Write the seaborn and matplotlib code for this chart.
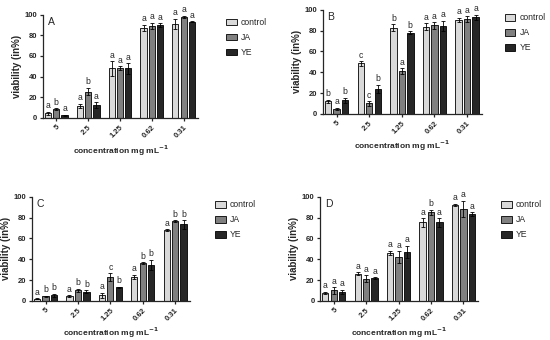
import numpy as np
import pandas as pd
import matplotlib
matplotlib.use("Agg")
import matplotlib.pyplot as plt
import seaborn as sns

sns.set_style("ticks")
plt.rcParams["font.family"] = ["Liberation Sans", "DejaVu Sans"]
plt.rcParams["mathtext.default"] = "bf"

concentrations = ["5", "2.5", "1.25", "0.62", "0.31"]
treatments = ["control", "JA", "YE"]
colors = ["#d9d9d9", "#808080", "#262626"]

# media y desviacion por panel (control, JA, YE)
A_mean = [[4.5, 12, 48, 87, 91], [8.5, 25.5, 48, 89, 98], [2.5, 12.5, 48, 90, 93]]
A_err = [[1.5, 2, 7, 3, 5], [1, 3.5, 2, 3, 1], [0.5, 2.5, 5, 1.5, 0.5]]
A_let = [["a", "a", "a", "a", "a"], ["b", "b", "a", "a", "a"], ["a", "a", "a", "a", "a"]]

B_mean = [[12, 48.5, 83, 84, 90.5], [5, 10, 41, 85, 91], [13, 24, 78, 84.5, 93]]
B_err = [[1.5, 2, 3, 3, 2], [1, 2, 3, 3, 3], [2.5, 4, 1.5, 5, 2.5]]
B_let = [["b", "c", "b", "a", "a"], ["a", "c", "a", "a", "a"], ["b", "b", "b", "a", "a"]]

C_mean = [[2, 4.5, 5.5, 23, 68], [4.5, 10, 23, 36, 76.5], [5.5, 9, 13, 34.5, 73.5]]
C_err = [[0.5, 1, 2.5, 2, 1], [0.5, 1.5, 3.5, 1, 1], [1.5, 1, 0.5, 5, 4]]
C_let = [["a", "a", "a", "a", "a"], ["b", "b", "c", "b", "b"], ["b", "b", "b", "b", "b"]]

D_mean = [[8, 26, 46, 75.5, 92.5], [10, 21.5, 42, 85, 88.5], [8.5, 22, 47, 75.5, 83.5]]
D_err = [[1, 1.5, 2, 4, 1], [3, 3, 5.5, 2.5, 7.5], [2, 0.5, 6, 4, 1.5]]
D_let = [["a", "a", "a", "a", "a"], ["a", "a", "a", "b", "a"], ["a", "a", "a", "a", "a"]]

panels = [
    ("A", A_mean, A_err, A_let, [0.078, 0.653, 0.282, 0.304], 0.405),
    ("B", B_mean, B_err, B_let, [0.587, 0.665, 0.289, 0.306], 0.912),
    ("C", C_mean, C_err, C_let, [0.058, 0.115, 0.287, 0.306], 0.385),
    ("D", D_mean, D_err, D_let, [0.582, 0.115, 0.287, 0.306], 0.905),
]

fig = plt.figure(figsize=(5.5, 3.4), dpi=100)

for name, means, errs, lets, rect, leg_x in panels:
    ax = fig.add_axes(rect)
    df = pd.DataFrame({
        "conc": [c for _ in treatments for c in concentrations],
        "trat": [t for t in treatments for _ in concentrations],
        "val": [v for row in means for v in row],
    })
    sns.barplot(data=df, x="conc", y="val", hue="trat", order=concentrations,
                hue_order=treatments, palette=colors, errorbar=None,
                width=0.78, gap=0.25, edgecolor="black", linewidth=0.6, ax=ax)
    bar_conts = list(ax.containers)
    for k, cont in enumerate(bar_conts):
        for j, p in enumerate(cont.patches):
            xc = p.get_x() + p.get_width() / 2
            top = means[k][j] + errs[k][j]
            ax.errorbar(xc, means[k][j], yerr=errs[k][j], color="black",
                        lw=0.6, capsize=1.5, capthick=0.6)
            ax.text(xc, top + 1.5, lets[k][j], ha="center", va="bottom",
                    fontsize=6.2, clip_on=False)
    ax.set_ylim(0, 100)
    ax.set_xlim(-0.42, 4.45)
    ax.set_yticks([0, 20, 40, 60, 80, 100])
    ax.tick_params(axis="both", labelsize=5.5, width=0.9, length=2.5, pad=1.5)
    for lab in ax.get_yticklabels():
        lab.set_fontweight("bold")
    ax.set_xticks(range(len(concentrations)))
    ax.set_xticklabels(concentrations, rotation=45, ha="right",
                       rotation_mode="anchor", fontweight="bold", fontsize=5.5)
    ax.set_xlabel(r"concentration mg mL$^{-1}$", fontsize=6, fontweight="bold",
                  labelpad=3)
    ax.set_ylabel("viability (in%)", fontsize=7, fontweight="bold", labelpad=2)
    sns.despine(ax=ax)
    for s in ["left", "bottom"]:
        ax.spines[s].set_linewidth(0.9)
    ax.text(0.03, 0.98, name, transform=ax.transAxes, ha="left", va="top",
            fontsize=7.5)
    ax.legend(loc="upper left", bbox_to_anchor=(leg_x / rect[2] - rect[0] / rect[2], 1.0),
              frameon=False, fontsize=6.2, handlelength=1.2, handleheight=0.8,
              handletextpad=0.5, labelspacing=0.7, borderaxespad=0)

fig.savefig("out.png", dpi=100)
